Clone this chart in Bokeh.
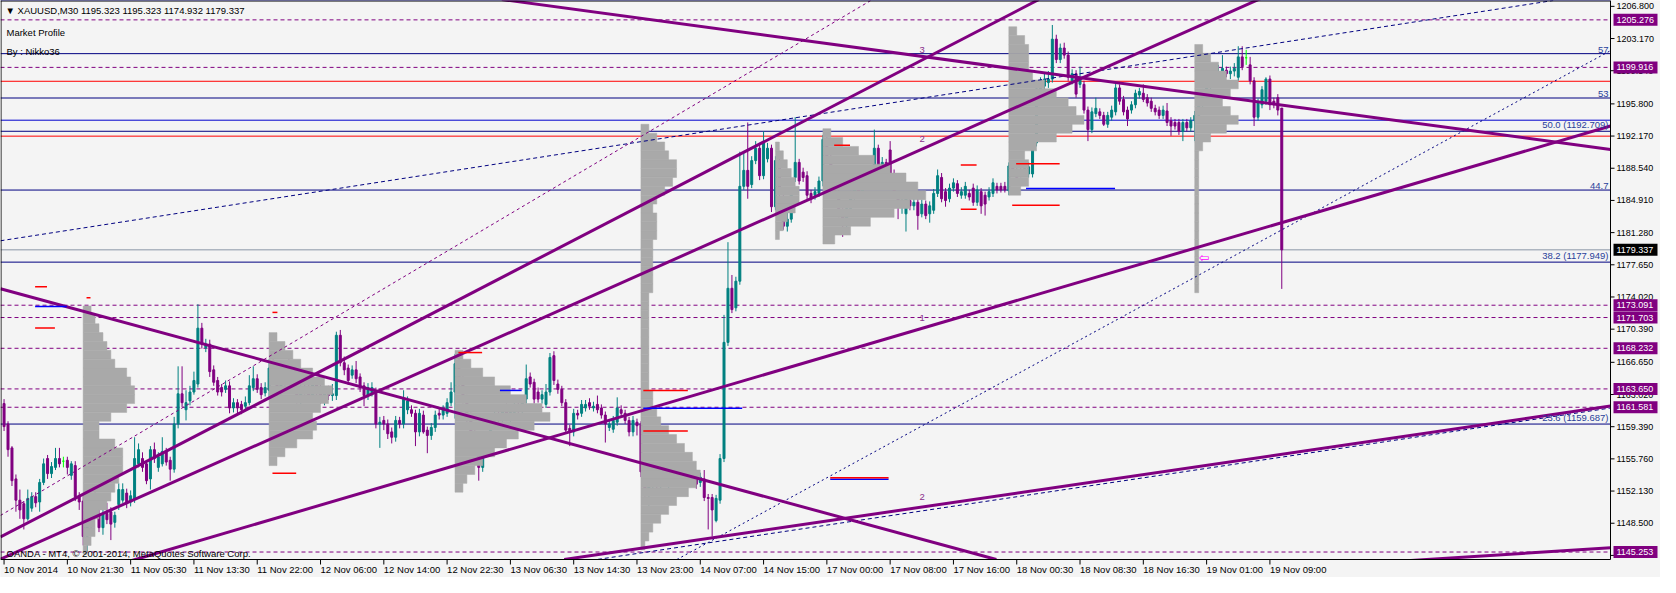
from bokeh.plotting import figure
from bokeh.core.properties import value
from bokeh.embed import file_html
from bokeh.resources import INLINE

FONT = "Liberation Sans"
BG = "#F4F4F4"
BULL = "#008080"
BEAR = "#800080"
DOJI = "#00FF00"
NAVY = "#000080"
PURPLE = "#800080"

# ---------------- OHLC (XAUUSD M30, bar index 0..323) ----------------
opens = [
 1162.0,1159.7,1157.0,1153.5,1151.1,1150.7,1149.0,1150.2,1151.5,1150.9,
 1153.1,1155.8,1154.1,1154.8,1155.8,1155.5,1155.6,1153.9,1155.0,1151.5,
 1151.0,1147.0,1148.8,1150.2,1149.5,1148.0,1149.6,1149.8,1148.6,1150.6,
 1151.1,1151.9,1150.9,1151.2,1155.2,1155.8,1155.2,1153.5,1156.8,1154.8,
 1155.2,1156.6,1155.6,1154.6,1159.7,1163.1,1161.3,1162.3,1163.3,1164.2,
 1170.5,1168.3,1168.7,1165.8,1164.6,1163.8,1163.6,1164.0,1161.5,1162.1,
 1161.9,1161.7,1162.1,1163.8,1164.8,1163.8,1163.2,1163.5,1166.0,1165.0,
 1163.5,1164.8,1166.2,1165.3,1163.8,1162.6,1163.9,1163.4,1162.8,1164.1,
 1163.3,1162.6,1163.2,1162.9,1162.9,1169.7,1166.6,1166.0,1165.2,1165.8,
 1165.0,1164.0,1162.9,1163.2,1163.4,1159.7,1160.1,1159.7,1158.8,1158.2,
 1160.1,1159.7,1161.3,1161.3,1160.9,1158.8,1160.7,1159.0,1158.4,1159.3,
 1160.9,1160.7,1160.9,1162.1,1163.3,1166.5,1164.6,1162.5,1160.2,1158.5,
 1156.8,1154.8,1156.8,1158.2,1160.0,1160.6,1160.1,1161.2,1160.4,1161.0,
 1161.7,1161.1,1162.5,1165.0,1164.4,1163.3,1162.5,1161.9,1163.3,1167.4,
 1164.2,1163.6,1162.1,1159.2,1158.8,1160.9,1160.9,1161.5,1162.1,1161.5,
 1161.9,1161.5,1160.7,1159.3,1159.1,1159.9,1161.3,1160.9,1160.1,1158.8,
 1159.9,1159.7,1154.3,1152.2,1152.9,1153.3,1152.8,1153.8,1153.2,1153.6,
 1154.4,1153.9,1154.5,1153.5,1153.7,1153.7,1153.1,1153.5,1151.4,1151.4,
 1148.8,1151.1,1155.8,1168.9,1175.0,1172.8,1175.8,1186.5,1188.3,1186.7,
 1189.4,1190.8,1187.7,1189.6,1190.8,1184.2,1189.4,1185.0,1182.0,1182.8,
 1187.5,1189.2,1188.1,1187.7,1185.7,1185.5,1185.7,1187.1,1191.8,1189.6,
 1187.8,1185.9,1183.6,1182.2,1184.0,1185.6,1186.4,1185.8,1186.9,1187.4,
 1188.6,1190.8,1188.6,1189.2,1190.6,1187.7,1185.1,1184.3,1183.4,1184.9,
 1184.3,1184.7,1183.4,1184.5,1183.4,1183.8,1185.7,1187.5,1185.9,1185.1,
 1186.3,1186.8,1185.5,1185.5,1185.7,1186.3,1184.7,1185.9,1185.5,1185.3,
 1185.7,1186.5,1186.5,1186.5,1186.0,1188.8,1188.4,1188.3,1188.1,1187.9,
 1187.9,1191.4,1197.5,1197.8,1198.2,1198.6,1203.1,1200.8,1202.1,1201.3,
 1198.4,1199.2,1198.0,1198.0,1195.1,1192.9,1194.7,1194.9,1194.5,1193.5,
 1194.3,1194.9,1197.6,1196.3,1195.1,1195.1,1195.7,1196.8,1197.0,1196.5,
 1196.1,1195.3,1195.1,1194.5,1195.0,1193.9,1193.7,1193.7,1192.7,1193.7,
 1193.1,1193.9,1194.5,1195.8,1197.0,1197.9,1198.4,1199.1,1199.0,1199.6,
 1199.2,1199.5,1198.8,1201.1,1201.0,1200.2,1198.4,1194.3,1195.7,1196.1,
 1198.6,1196.1,1196.5,1195.323]
highs = [
 1162.5,1160.0,1157.2,1154.0,1152.3,1151.0,1152.3,1152.0,1152.0,1153.5,
 1155.8,1156.2,1155.4,1157.0,1157.0,1156.0,1156.0,1155.5,1155.5,1152.0,
 1151.8,1149.5,1151.0,1152.0,1150.5,1150.0,1150.8,1150.3,1149.8,1153.0,
 1153.0,1152.4,1152.2,1158.2,1157.5,1156.5,1155.6,1157.2,1157.6,1156.5,
 1158.2,1157.0,1156.0,1160.5,1166.2,1166.2,1163.5,1164.0,1165.6,1173.2,
 1171.1,1169.3,1169.2,1166.3,1165.0,1164.2,1164.6,1164.5,1162.6,1162.5,
 1162.3,1162.8,1165.2,1166.2,1165.3,1164.3,1164.4,1167.0,1167.5,1166.0,
 1165.2,1166.8,1167.2,1166.0,1164.5,1164.3,1165.0,1164.2,1164.6,1164.8,
 1164.2,1163.8,1164.0,1164.2,1170.1,1170.3,1167.3,1166.4,1166.3,1166.8,
 1165.4,1164.4,1164.3,1164.4,1163.8,1160.5,1160.6,1160.2,1159.3,1160.6,
 1160.5,1163.5,1162.8,1161.8,1161.3,1161.4,1161.2,1159.4,1159.8,1161.2,
 1161.5,1161.8,1162.6,1164.4,1167.6,1167.2,1165.2,1163.0,1161.0,1159.0,
 1157.3,1157.2,1158.8,1160.5,1161.5,1161.8,1161.6,1162.0,1161.5,1162.2,
 1162.4,1162.6,1166.4,1165.5,1164.8,1163.8,1163.5,1164.2,1167.7,1167.9,
 1164.7,1164.0,1162.5,1159.6,1161.4,1161.3,1162.4,1162.4,1162.6,1162.2,
 1162.9,1161.9,1161.1,1160.2,1160.6,1162.7,1161.8,1161.3,1160.5,1160.6,
 1160.3,1160.0,1155.2,1153.6,1154.0,1154.5,1154.2,1154.6,1154.3,1154.8,
 1154.9,1155.2,1155.0,1154.9,1154.8,1154.2,1154.2,1154.5,1151.8,1151.8,
 1151.7,1156.3,1172.0,1180.2,1176.5,1176.3,1190.4,1190.4,1193.7,1189.9,
 1191.6,1191.4,1192.7,1191.4,1191.2,1189.9,1189.8,1185.6,1183.6,1186.2,
 1194.3,1189.6,1188.6,1188.2,1186.1,1186.4,1187.6,1192.3,1192.5,1190.4,
 1188.6,1186.8,1184.6,1184.5,1186.0,1187.2,1187.5,1187.4,1188.0,1188.2,
 1192.9,1191.2,1189.8,1189.6,1191.6,1188.4,1185.6,1185.2,1185.6,1185.4,
 1185.2,1185.1,1185.0,1184.9,1184.8,1186.2,1188.4,1188.0,1186.3,1186.8,
 1187.4,1187.2,1186.4,1187.0,1186.1,1186.8,1186.6,1186.3,1185.9,1186.4,
 1187.4,1186.9,1186.9,1187.0,1189.2,1189.3,1188.9,1188.7,1189.0,1189.2,
 1191.8,1198.0,1198.8,1199.2,1199.5,1204.7,1203.6,1202.6,1202.7,1201.7,
 1199.7,1199.6,1200.0,1198.4,1195.5,1195.4,1196.5,1195.3,1194.9,1194.9,
 1195.6,1198.2,1198.0,1196.7,1195.5,1196.1,1197.4,1197.6,1198.0,1196.9,
 1196.5,1195.7,1195.5,1195.6,1195.9,1194.3,1194.1,1194.1,1194.1,1194.1,
 1194.3,1195.0,1196.2,1197.5,1198.4,1199.0,1199.6,1200.2,1201.3,1200.0,
 1200.0,1200.4,1202.3,1202.3,1201.9,1201.1,1198.8,1196.4,1197.8,1198.8,
 1199.0,1196.5,1196.9,1195.323]
lows = [
 1158.9,1156.0,1152.7,1149.8,1149.0,1147.8,1148.8,1149.8,1150.3,1149.8,
 1152.8,1153.5,1153.6,1154.5,1154.8,1154.8,1154.0,1153.4,1151.0,1150.0,
 1146.0,1145.3,1147.8,1149.0,1147.5,1147.2,1148.4,1146.6,1148.0,1150.0,
 1150.8,1150.2,1150.4,1150.8,1154.8,1154.3,1152.9,1152.3,1155.3,1154.3,
 1154.9,1155.0,1153.3,1154.2,1159.2,1161.6,1160.1,1161.8,1163.0,1163.8,
 1168.2,1167.8,1165.0,1164.0,1162.9,1162.8,1163.2,1160.9,1161.0,1160.9,
 1160.8,1161.2,1161.8,1163.4,1163.2,1162.5,1162.8,1162.5,1164.5,1163.0,
 1162.6,1164.0,1164.8,1163.2,1162.0,1161.8,1163.0,1162.2,1162.3,1162.9,
 1162.0,1161.8,1162.4,1162.3,1162.4,1166.2,1165.2,1164.1,1164.8,1164.3,
 1163.3,1161.7,1162.4,1162.8,1159.2,1157.0,1159.0,1158.0,1157.5,1157.7,
 1159.2,1159.2,1160.8,1160.5,1157.2,1158.3,1158.6,1156.4,1157.9,1158.8,
 1160.2,1160.2,1160.5,1161.7,1160.3,1164.0,1162.0,1159.8,1158.0,1156.2,
 1153.3,1154.3,1156.3,1157.6,1159.2,1159.6,1159.3,1160.0,1159.6,1160.3,
 1160.8,1160.7,1162.0,1163.8,1162.0,1162.1,1162.0,1161.5,1162.9,1164.1,
 1163.1,1161.7,1158.6,1157.2,1158.3,1160.2,1160.5,1161.1,1161.3,1161.1,
 1160.9,1160.3,1157.6,1158.9,1158.7,1159.5,1160.5,1159.7,1158.3,1158.3,
 1158.4,1153.7,1151.5,1150.4,1152.0,1152.3,1152.1,1152.9,1152.4,1153.0,
 1153.5,1153.4,1153.4,1153.1,1153.3,1152.4,1152.6,1151.0,1147.8,1147.0,
 1148.6,1150.7,1155.4,1168.5,1172.2,1172.4,1175.4,1186.1,1185.1,1186.3,
 1189.0,1187.2,1187.3,1189.2,1183.6,1183.8,1185.0,1181.6,1181.4,1182.4,
 1187.0,1186.7,1187.0,1185.0,1184.6,1185.0,1185.3,1186.5,1189.0,1187.0,
 1185.2,1183.0,1180.8,1181.6,1183.4,1185.0,1185.2,1185.2,1186.2,1186.4,
 1188.2,1187.9,1188.2,1187.2,1187.2,1185.3,1182.8,1183.4,1181.4,1183.8,
 1183.8,1181.6,1183.0,1182.8,1182.4,1183.4,1185.3,1184.7,1184.2,1184.7,
 1185.9,1185.3,1185.1,1185.1,1184.9,1184.3,1184.3,1183.4,1183.2,1184.9,
 1185.3,1185.7,1185.8,1185.8,1185.5,1187.8,1187.0,1187.5,1187.7,1187.5,
 1187.5,1191.0,1196.8,1197.4,1197.6,1198.2,1200.4,1200.4,1200.9,1198.4,
 1198.0,1196.5,1197.6,1194.7,1191.6,1192.5,1194.3,1194.1,1193.3,1193.1,
 1193.9,1194.5,1195.7,1194.5,1193.3,1194.7,1195.3,1196.4,1196.0,1195.5,
 1194.9,1194.5,1194.1,1194.1,1193.3,1192.2,1192.9,1192.3,1191.6,1192.7,
 1192.7,1191.6,1193.8,1195.2,1196.5,1197.2,1197.8,1198.5,1198.6,1198.8,
 1198.6,1198.9,1198.4,1199.6,1200.2,1198.0,1193.3,1193.9,1195.3,1195.7,
 1195.1,1195.3,1194.5,1174.932]
closes = [
 1159.4,1156.8,1153.3,1151.1,1150.0,1149.0,1151.3,1151.5,1150.8,1153.1,
 1155.2,1154.1,1154.9,1155.8,1155.2,1155.5,1154.8,1155.2,1151.5,1150.9,
 1147.0,1148.8,1150.2,1149.5,1148.0,1149.6,1148.9,1148.4,1149.4,1152.3,
 1152.3,1150.9,1151.6,1155.8,1156.8,1154.8,1153.3,1156.8,1155.8,1156.0,
 1156.6,1155.4,1154.6,1159.7,1163.1,1162.1,1162.1,1163.3,1164.6,1170.5,
 1168.7,1168.7,1165.6,1164.4,1163.3,1163.3,1164.0,1161.5,1162.1,1161.5,
 1161.3,1162.1,1164.0,1164.8,1163.6,1163.0,1163.8,1166.0,1165.0,1163.5,
 1164.8,1166.2,1165.3,1163.8,1162.6,1163.9,1163.4,1162.8,1164.1,1163.3,
 1162.6,1163.2,1162.9,1163.1,1169.7,1166.6,1165.8,1164.6,1165.8,1164.8,
 1163.8,1162.9,1163.8,1163.8,1159.7,1159.9,1159.7,1158.6,1158.2,1160.1,
 1159.7,1162.5,1162.3,1160.9,1158.8,1160.9,1158.8,1158.4,1159.3,1160.7,
 1160.7,1161.3,1162.1,1163.3,1166.5,1164.6,1162.5,1160.2,1158.5,1156.8,
 1154.8,1156.8,1158.2,1160.0,1160.6,1160.1,1161.2,1160.4,1161.0,1161.7,
 1161.1,1162.2,1164.8,1164.2,1162.5,1162.5,1163.0,1163.3,1167.2,1164.6,
 1163.6,1162.1,1159.0,1158.8,1160.9,1160.7,1161.9,1161.9,1161.7,1161.7,
 1161.3,1160.7,1159.7,1159.7,1160.1,1161.5,1160.9,1160.1,1158.8,1160.1,
 1159.5,1154.3,1152.2,1152.9,1153.3,1152.8,1153.8,1153.2,1153.6,1154.4,
 1153.9,1154.5,1153.9,1154.3,1154.3,1152.9,1153.7,1151.4,1151.3,1150.0,
 1151.3,1155.8,1168.9,1175.0,1172.6,1175.8,1186.5,1188.3,1186.5,1189.4,
 1190.8,1187.7,1191.4,1190.8,1184.2,1189.4,1185.6,1182.0,1182.8,1185.8,
 1189.2,1187.1,1187.5,1185.5,1185.1,1185.9,1187.1,1191.8,1189.6,1187.8,
 1185.9,1183.6,1182.2,1184.0,1185.6,1186.4,1185.8,1186.9,1187.4,1186.9,
 1190.8,1188.3,1189.2,1187.7,1187.7,1185.7,1184.3,1184.8,1185.1,1184.3,
 1184.7,1183.2,1184.5,1183.2,1184.3,1185.7,1187.7,1185.1,1184.9,1186.3,
 1186.9,1185.7,1185.9,1186.5,1185.3,1184.7,1186.1,1184.3,1184.5,1185.9,
 1186.9,1186.1,1186.1,1186.1,1188.8,1188.2,1187.5,1187.9,1188.5,1188.7,
 1191.4,1197.5,1198.2,1198.6,1198.6,1203.1,1200.8,1202.1,1201.3,1198.8,
 1199.2,1196.9,1198.6,1195.1,1192.9,1194.9,1195.3,1194.5,1193.5,1194.5,
 1195.1,1197.6,1196.1,1194.9,1194.1,1195.7,1197.0,1197.2,1196.3,1195.9,
 1195.3,1194.9,1194.5,1195.1,1193.7,1193.3,1193.3,1192.7,1193.7,1193.1,
 1193.9,1194.5,1195.8,1197.0,1197.9,1198.4,1199.1,1199.4,1199.8,1199.2,
 1199.5,1199.8,1201.1,1200.0,1201.0,1198.4,1194.3,1195.9,1197.4,1198.6,
 1195.7,1195.7,1195.1,1179.337]

# ---------------- axes ----------------
x_tick_bars = [0, 16, 32, 48, 64, 80, 96, 112, 128, 144, 160, 176, 192, 208,
               224, 240, 256, 272, 288, 304, 320]
x_tick_labels = ["10 Nov 2014", "10 Nov 21:30", "11 Nov 05:30", "11 Nov 13:30",
                 "11 Nov 22:00", "12 Nov 06:00", "12 Nov 14:00", "12 Nov 22:30",
                 "13 Nov 06:30", "13 Nov 14:30", "13 Nov 23:00", "14 Nov 07:00",
                 "14 Nov 15:00", "17 Nov 00:00", "17 Nov 08:00", "17 Nov 16:00",
                 "18 Nov 00:30", "18 Nov 08:30", "18 Nov 16:30", "19 Nov 01:00",
                 "19 Nov 09:00"]
price_ticks = [1144.870, 1148.500, 1152.130, 1155.760, 1159.390, 1163.020,
               1166.650, 1170.390, 1174.020, 1177.650, 1181.280, 1184.910,
               1188.540, 1192.170, 1195.800, 1199.540, 1203.170, 1206.800]

# ---------------- horizontal objects ----------------
fib_low, fib_high = 1130.167, 1255.252
fib_levels = [23.6, 38.2, 44.7, 50.0, 53.0, 57.0, 61.8]
fib_texts = ["23.6 (1159.687)", "38.2 (1177.949)", "44.7", "50.0 (1192.709)", "53", "57", ""]
dashed_levels = [1205.276, 1199.916, 1173.091, 1171.703, 1168.232, 1163.650, 1161.581, 1145.253]
red_levels = [1198.35, 1192.16]
blue_levels = [1193.96]
last_price = 1179.337

# ---------------- trend lines (anchor bar, price) ----------------
thick_x0 = [-0.9, 125.85, -0.9, -0.9, 32.35, 141.6, 355.6]
thick_y0 = [1174.94, 1207.57, 1146.95, 1144.46, 1144.30, 1144.41, 1144.30]
thick_x1 = [250.85, 406.1, 261.6, 317.85, 406.1, 406.1, 406.1]
thick_y1 = [1144.41, 1190.65, 1207.57, 1207.72, 1193.30, 1161.72, 1145.73]
navy_dash_x0 = [-0.9, 146.6]
navy_dash_y0 = [1180.36, 1144.19]
navy_dash_x1 = [391.6, 406.1]
navy_dash_y1 = [1207.46, 1161.50]
navy_dot_x0 = [170.1]
navy_dot_y0 = [1144.41]
navy_dot_x1 = [406.1]
navy_dot_y1 = [1201.80]
thin_purple_x0 = [-0.9]
thin_purple_y0 = [1149.38]
thin_purple_x1 = [219.1]
thin_purple_y1 = [1207.46]

# ---------------- short profile level segments ----------------
seg_x0 = [7.85, 7.85, 7.85, 20.85, 67.85, 67.85, 114.85, 125.35, 161.6, 161.6, 161.6,
          208.85, 208.85, 209.85, 241.85, 241.85, 254.85, 255.85, 258.35]
seg_x1 = [10.85, 12.85, 15.85, 21.85, 69.1, 73.85, 120.85, 130.85, 172.85, 186.6, 172.85,
          223.6, 223.6, 213.85, 245.85, 245.85, 266.85, 266.85, 280.85]
seg_y = [1175.16, 1170.51, 1172.95, 1173.94, 1172.28, 1154.14, 1167.75, 1163.48, 1163.48,
         1161.48, 1158.90, 1153.45, 1153.62, 1191.14, 1188.92, 1183.92, 1184.38, 1189.04, 1186.26]
seg_color = ["red", "red", "#0000FF", "red", "red", "red", "red", "#0000FF", "red",
             "#0000FF", "red", "#0000FF", "red", "red", "red", "red", "red", "red", "#0000FF"]

# ---------------- market profiles (start bar, price rows, widths in bars) ----------------
prof_bases = [20, 67, 114, 161, 195, 207, 254, 301]
prof_prices = [
    [1172.5, 1171.5, 1170.5, 1169.5, 1168.5, 1167.5, 1166.5, 1165.5, 1164.5, 1163.5, 1162.5,
     1161.5, 1160.5, 1159.5, 1158.5, 1157.5, 1156.5, 1155.5, 1154.5, 1153.5, 1152.5, 1151.5,
     1150.5, 1149.5, 1148.5, 1147.5, 1146.5, 1145.5],
    [1169.5, 1168.5, 1167.5, 1166.5, 1165.5, 1164.5, 1163.5, 1162.5, 1161.5, 1160.5, 1159.5,
     1158.5, 1157.5, 1156.5, 1155.5],
    [1167.5, 1166.5, 1165.5, 1164.5, 1163.5, 1162.5, 1161.5, 1160.5, 1159.5, 1158.5, 1157.5,
     1156.5, 1155.5, 1154.5, 1153.5, 1152.5],
    [1193, 1192, 1191, 1190, 1189, 1188, 1187, 1186, 1185, 1184, 1183, 1182, 1181, 1180, 1179,
     1178, 1177, 1176, 1175, 1174, 1173, 1172, 1171, 1170, 1169, 1168, 1167, 1166, 1165, 1164,
     1163, 1162, 1161, 1160, 1159, 1158, 1157, 1156, 1155, 1154, 1153, 1152, 1151, 1150, 1149,
     1148, 1147, 1146],
    [1191, 1190, 1189, 1188, 1187, 1186, 1185, 1184, 1183, 1182, 1181],
    [1192.5, 1191.5, 1190.5, 1189.5, 1188.5, 1187.5, 1186.5, 1185.5, 1184.5, 1183.5, 1182.5,
     1181.5, 1180.5],
    [1204, 1203, 1202, 1201, 1200, 1199, 1198, 1197, 1196, 1195, 1194, 1193, 1192, 1191, 1190,
     1189, 1188, 1187, 1186],
    [1202, 1201, 1200, 1199, 1198, 1197, 1196, 1195, 1194, 1193, 1192, 1191, 1190, 1189, 1188,
     1187, 1186, 1185, 1184, 1183, 1182, 1181, 1180, 1179, 1178, 1177, 1176, 1175],
]
prof_widths = [
    [2, 3, 4, 5, 6, 7, 8, 11, 12, 13, 13, 11, 7, 4, 4, 8, 10, 10, 10, 9, 8, 7, 6, 4, 3, 3, 2, 1],
    [2, 4, 6, 8, 11, 14, 16, 15, 13, 11, 12, 11, 7, 4, 2],
    [2, 4, 7, 10, 14, 18, 22, 24, 20, 16, 13, 10, 7, 5, 3, 2],
    [2, 4, 6, 7, 9, 9, 8, 6, 4, 3, 4, 4, 4, 3, 3, 3, 3, 3, 3, 2, 2, 2, 2, 2, 2, 2, 2, 2, 2, 2,
     3, 3, 4, 5, 7, 9, 11, 13, 14, 15, 14, 12, 9, 7, 5, 3, 2, 1],
    [1, 2, 3, 4, 5, 6, 6, 5, 3, 2, 1],
    [2, 5, 9, 13, 17, 21, 24, 26, 22, 18, 12, 7, 3],
    [2, 4, 5, 5, 5, 6, 9, 12, 15, 17, 19, 16, 12, 7, 4, 5, 5, 5, 3],
    [2, 4, 6, 8, 11, 9, 7, 9, 11, 8, 4, 2, 1, 1, 1, 1, 1, 1, 1, 1, 1, 1, 1, 1, 1, 1, 1, 1],
]

# ---------------- chart texts ----------------
wave_texts = ["3", "2", "1", "2"]
wave_bar = 232.1
wave_prices = [1201.87, 1191.87, 1171.62, 1151.49]
header_text = "▼ XAUUSD,M30  1195.323 1195.323 1174.932 1179.337"
header_lines = ["Market Profile", "By : Nikko36"]
copyright_text = "OANDA - MT4, © 2001-2014, MetaQuotes Software Corp."

# ---------------- geometry: chart box inside a full-canvas frame ----------------
FIG_W, FIG_H = 1660, 577
CHART_W, CHART_H = 1610, 559
X0, X1 = -0.9, 406.1          # bars visible in the chart box
Y0, Y1 = 1144.41, 1207.46     # prices visible in the chart box
bpx = (X1 - X0) / CHART_W     # bars per pixel
ppx = (Y1 - Y0) / CHART_H     # price per pixel
XR = X0 + FIG_W * bpx
YB = Y0 - (FIG_H - CHART_H) * ppx

p = figure(width=FIG_W, height=FIG_H, x_range=(X0, XR), y_range=(YB, Y1),
           x_axis_location=None, y_axis_location=None,
           output_backend="svg", toolbar_location=None,
           background_fill_color=BG, border_fill_color=BG,
           min_border=0, min_border_left=0, min_border_right=0,
           min_border_top=0, min_border_bottom=0)
p.outline_line_color = None
p.grid.visible = False

tf = value(FONT)
fs = value("9.5px")
fs_scale = value("9px")

# horizontal lines across the chart box
fib_prices = [fib_low + lvl / 100.0 * (fib_high - fib_low) for lvl in fib_levels]
n = len(fib_prices)
p.segment(x0=[X0] * n, y0=fib_prices, x1=[X1] * n, y1=fib_prices, line_color=NAVY, line_width=1)
n = len(dashed_levels)
p.segment(x0=[X0] * n, y0=dashed_levels, x1=[X1] * n, y1=dashed_levels,
          line_color=PURPLE, line_width=1, line_dash="4 3")
n = len(red_levels)
p.segment(x0=[X0] * n, y0=red_levels, x1=[X1] * n, y1=red_levels, line_color="red", line_width=1)
n = len(blue_levels)
p.segment(x0=[X0] * n, y0=blue_levels, x1=[X1] * n, y1=blue_levels,
          line_color="#0000CD", line_width=1)
p.segment(x0=[X0], y0=[last_price], x1=[X1], y1=[last_price], line_color="#8A96A6", line_width=1)

# candles
idx = list(range(len(closes)))
colors = [BULL if c > o else (BEAR if c < o else DOJI) for o, c in zip(opens, closes)]
tops = [max(o, c) for o, c in zip(opens, closes)]
bots = [min(o, c) for o, c in zip(opens, closes)]
p.segment(x0=idx, y0=lows, x1=idx, y1=highs, line_color=colors, line_width=1)
p.vbar(x=idx, width=0.5, top=tops, bottom=bots, fill_color=colors, line_color=colors,
       line_width=1)

# market profiles
for base, prs, wds in zip(prof_bases, prof_prices, prof_widths):
    p.hbar(y=prs, left=[base] * len(prs), right=[base + w for w in wds], height=1.0,
           fill_color="#A9A9A9", line_color="#A9A9A9", line_width=0.5)

# trend lines
p.segment(x0=thin_purple_x0, y0=thin_purple_y0, x1=thin_purple_x1, y1=thin_purple_y1,
          line_color=PURPLE, line_width=1, line_dash="3 3")
p.segment(x0=navy_dash_x0, y0=navy_dash_y0, x1=navy_dash_x1, y1=navy_dash_y1,
          line_color=NAVY, line_width=1, line_dash="4 3")
p.segment(x0=navy_dot_x0, y0=navy_dot_y0, x1=navy_dot_x1, y1=navy_dot_y1,
          line_color=NAVY, line_width=1, line_dash="2 3")
p.segment(x0=thick_x0, y0=thick_y0, x1=thick_x1, y1=thick_y1,
          line_color=PURPLE, line_width=3)

# short level segments
p.segment(x0=seg_x0, y0=seg_y, x1=seg_x1, y1=seg_y, line_color=seg_color, line_width=1.5)

# fib labels (right-aligned at the chart edge, sitting on their lines)
fl_y = [pr for pr, t in zip(fib_prices, fib_texts) if t]
fl_t = [t for t in fib_texts if t]
p.text(x=[X1] * len(fl_t), y=fl_y, text=fl_t, x_offset=-2, y_offset=-1,
       text_align="right", text_baseline="bottom", text_font=tf, text_font_size=fs,
       text_color="#2A3F9A")

# wave numbers
p.text(x=[wave_bar] * len(wave_texts), y=wave_prices, text=wave_texts, text_align="center",
       text_baseline="middle", text_font=tf, text_font_size=fs, text_color="#8B2F8B")

# arrow
p.text(x=[303.4], y=[1178.5], text=["⇦"], text_align="center", text_baseline="middle",
       text_font=value("DejaVu Sans"), text_font_size=value("13px"), text_color="#FF00FF")

# header and copyright texts
p.text(x=[X0], y=[Y1], text=[header_text], x_offset=5, y_offset=10, text_baseline="middle",
       text_font=tf, text_font_size=fs, text_color="black")
p.text(x=[X0, X0], y=[Y1, Y1], text=header_lines, x_offset=6, y_offset=[32, 51],
       text_baseline="middle", text_font=tf, text_font_size=fs, text_color="black")
p.text(x=[X0], y=[Y0], text=[copyright_text], x_offset=6, y_offset=-6, text_baseline="middle",
       text_font=tf, text_font_size=fs, text_color="black")

# cover the scale areas (right and bottom) so chart objects stop at the chart box
p.quad(left=[X1, X0], right=[XR, XR], bottom=[YB, YB], top=[Y1, Y0],
       fill_color=BG, line_color=None)

# chart box border
p.segment(x0=[X0 + 0.5 * bpx, X0, X0, X1], y0=[Y0, Y0, Y1 - 0.5 * ppx, Y0],
          x1=[X0 + 0.5 * bpx, X1, X1, X1], y1=[Y1, Y0, Y1 - 0.5 * ppx, Y1],
          line_color="black", line_width=1)

# x scale: ticks and left-aligned labels
nt = len(x_tick_bars)
p.segment(x0=x_tick_bars, y0=[Y0] * nt, x1=x_tick_bars, y1=[Y0 - 5 * ppx] * nt,
          line_color="black", line_width=1)
p.text(x=x_tick_bars, y=[Y0] * nt, text=x_tick_labels, x_offset=0, y_offset=10,
       text_align="left", text_baseline="middle", text_font=tf, text_font_size=fs,
       text_color="black")

# price scale: ticks and labels
nt = len(price_ticks)
p.segment(x0=[X1] * nt, y0=price_ticks, x1=[X1 + 4 * bpx] * nt, y1=price_ticks,
          line_color="black", line_width=1)
p.text(x=[X1] * nt, y=price_ticks, text=["%.3f" % t for t in price_ticks], x_offset=6,
       text_align="left", text_baseline="middle", text_font=tf, text_font_size=fs_scale,
       text_color="black")

# price boxes for the dashed levels and the last price
box_prices = dashed_levels + [last_price]
box_colors = [PURPLE] * len(dashed_levels) + ["black"]
p.rect(x=[X1 + 25 * bpx] * len(box_prices), y=box_prices, width=44, height=12,
       width_units="screen", height_units="screen", fill_color=box_colors, line_color=None)
p.text(x=[X1] * len(box_prices), y=box_prices, text=["%.3f" % v for v in box_prices],
       x_offset=6, text_align="left", text_baseline="middle", text_font=tf,
       text_font_size=fs_scale, text_color="white")

open("out.html", "w").write(file_html(p, INLINE))
